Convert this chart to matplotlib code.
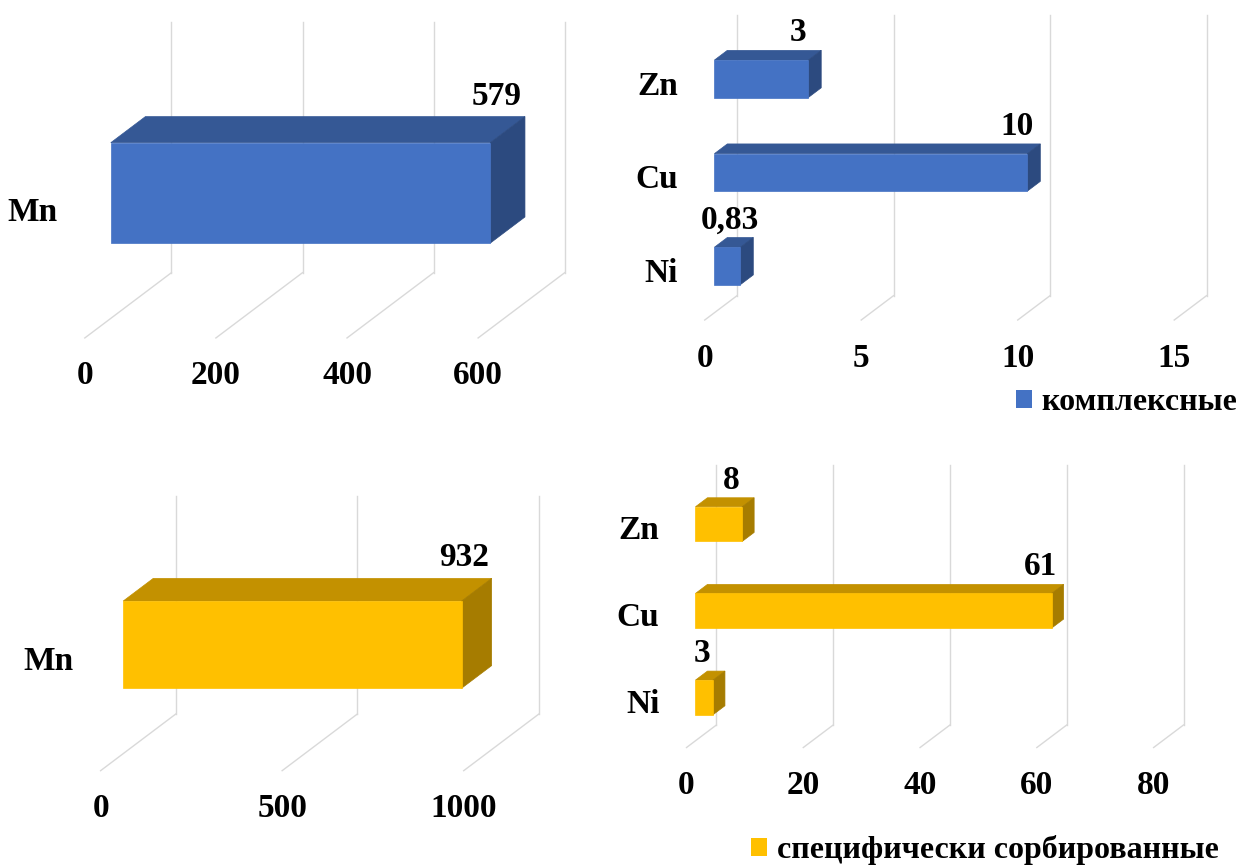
import matplotlib
matplotlib.use("Agg")
import matplotlib.pyplot as plt
from matplotlib.patches import Polygon, Patch

# ---------------------------------------------------------------- data
complex_mn_cats = ["Mn"]
complex_mn_vals = [579]
complex_mn_ticks = [0, 200, 400, 600]

complex_trace_cats = ["Ni", "Cu", "Zn"]
complex_trace_vals = [0.83, 10, 3]
complex_trace_ticks = [0, 5, 10, 15]

sorbed_mn_cats = ["Mn"]
sorbed_mn_vals = [932]
sorbed_mn_ticks = [0, 500, 1000]

sorbed_trace_cats = ["Ni", "Cu", "Zn"]
sorbed_trace_vals = [3, 61, 8]
sorbed_trace_ticks = [0, 20, 40, 60, 80]

series_names = ["комплексные", "специфически сорбированные"]

# ---------------------------------------------------------------- style
W, H, DPI = 1237, 866, 100
FS = 24
FS_LEG = 23
BLUE = dict(front="#4472C4", top="#355895", side="#2C4A7F")
GOLD = dict(front="#FFC000", top="#C39100", side="#A67C00")
GRID = "#D9D9D9"
D_FRONT, D_BACK = 0.70, 0.30   # depth of the bar's front / back faces

plt.rcParams["font.family"] = ["Liberation Serif", "DejaVu Serif"]
plt.rcParams["font.weight"] = "bold"

fig = plt.figure(figsize=(W / DPI, H / DPI), dpi=DPI)


def fmt(v):
    return f"{v:g}".replace(".", ",")


def panel(box, cats, vals, ticks, col, single):
    left, top, right, bottom = box
    ax = fig.add_axes([left / W, 1 - bottom / H, (right - left) / W, (bottom - top) / H])
    n = len(cats)
    ax.set_xlim(ticks[0], ticks[-1])
    ax.set_ylim(-0.5, n - 0.5)
    ax.axis("off")

    band_px = (bottom - top) / n
    ppu_x = (right - left) / (ticks[-1] - ticks[0])
    ddx = 0.345 * band_px / ppu_x      # depth shift along value axis (data units)
    ddy = 0.26                          # depth shift along category axis (bands)

    def P(v, c, d):
        return (v - d * ddx, c - d * ddy)

    y0 = -0.5
    # back-wall and floor grid lines
    for t in ticks:
        ax.plot([t, t], [y0, n - 0.5], color=GRID, lw=1.0, clip_on=False, zorder=1)
        a, b = P(t, y0, 0), P(t, y0, 1)
        ax.plot([a[0], b[0]], [a[1], b[1]], color=GRID, lw=1.0, clip_on=False, zorder=1)
        ax.annotate(str(t), P(t, y0, 1), xytext=(0, -38), textcoords="offset pixels",
                    ha="center", va="center", fontsize=FS, fontweight="bold",
                    annotation_clip=False)

    hh = 0.2
    for i, (cat, v) in enumerate(zip(cats, vals)):
        c = i
        top_face = [P(0, c + hh, D_BACK), P(v, c + hh, D_BACK),
                    P(v, c + hh, D_FRONT), P(0, c + hh, D_FRONT)]
        side_face = [P(v, c + hh, D_BACK), P(v, c - hh, D_BACK),
                     P(v, c - hh, D_FRONT), P(v, c + hh, D_FRONT)]
        front_face = [P(0, c + hh, D_FRONT), P(v, c + hh, D_FRONT),
                      P(v, c - hh, D_FRONT), P(0, c - hh, D_FRONT)]
        for pts, key in ((top_face, "top"), (side_face, "side"), (front_face, "front")):
            ax.add_patch(Polygon(pts, closed=True, facecolor=col[key],
                                 edgecolor=col[key], lw=0.5, clip_on=False, zorder=3))

        corner = P(v, c + hh, D_BACK)
        if single:
            ax.annotate(fmt(v), corner, xytext=(-3, 12), textcoords="offset pixels",
                        ha="right", va="baseline", fontsize=FS, fontweight="bold",
                        annotation_clip=False, zorder=5)
        else:
            ax.annotate(fmt(v), corner, xytext=(-23, 9), textcoords="offset pixels",
                        ha="center", va="baseline", fontsize=FS, fontweight="bold",
                        annotation_clip=False, zorder=5)

        ax.annotate(cat, P(0, c, 1), xytext=(-27, 0), textcoords="offset pixels",
                    ha="right", va="center", fontsize=FS, fontweight="bold",
                    annotation_clip=False)
    return ax


panel((171.4, 21.7, 564.7, 272.7), complex_mn_cats, complex_mn_vals,
      complex_mn_ticks, BLUE, True)
panel((737.0, 15.0, 1206.5, 295.7), complex_trace_cats, complex_trace_vals,
      complex_trace_ticks, BLUE, False)
panel((175.8, 496.0, 538.9, 714.0), sorbed_mn_cats, sorbed_mn_vals,
      sorbed_mn_ticks, GOLD, True)
panel((716.4, 465.0, 1183.5, 725.0), sorbed_trace_cats, sorbed_trace_vals,
      sorbed_trace_ticks, GOLD, False)

# legends
for name, col, (lx, ly) in ((series_names[0], BLUE, (1016, 403)),
                            (series_names[1], GOLD, (751, 850))):
    fig.legend(handles=[Patch(facecolor=col["front"], edgecolor="none")], labels=[name],
               loc="center left", bbox_to_anchor=(lx / W, 1 - ly / H),
               frameon=False, borderpad=0, borderaxespad=0,
               handlelength=0.5, handleheight=0.5, handletextpad=0.3,
               prop=dict(family=["Liberation Serif"], weight="bold", size=FS_LEG))

fig.savefig("out.png", dpi=DPI, facecolor="white")
